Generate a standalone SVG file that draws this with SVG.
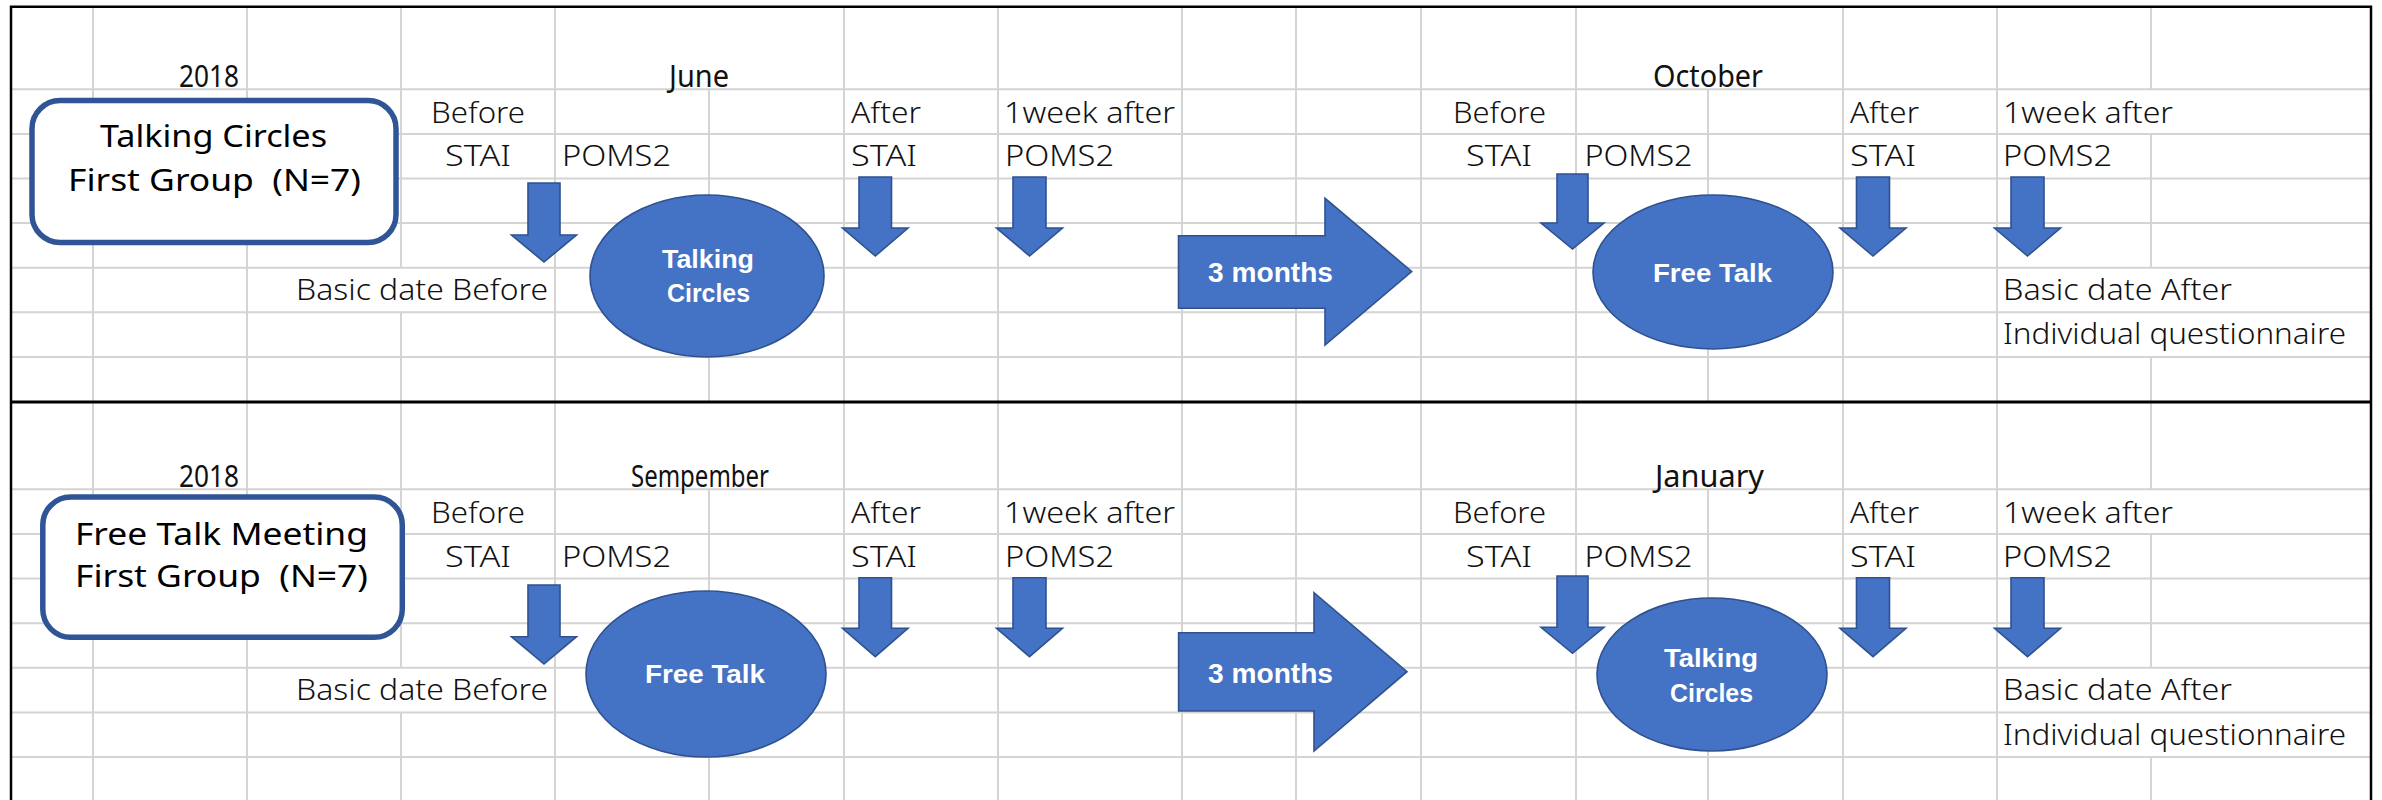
<svg xmlns="http://www.w3.org/2000/svg" width="2382" height="800" viewBox="0 0 2382 800">
<style>
.g{stroke:#D4D4D4;stroke-width:2;fill:none}
.b{stroke:#000;fill:none}
.lbl{font-family:"Noto Sans","Liberation Sans",sans-serif;font-size:28.5px;font-weight:300;fill:#111}
.mon{font-family:"Noto Sans","Liberation Sans",sans-serif;font-size:30px;font-weight:400;fill:#111}
.bx{font-family:"Noto Sans","Liberation Sans",sans-serif;font-size:30px;fill:#000}
.box{fill:#fff;stroke:#2F5597;stroke-width:5.5}
.sh{fill:#4472C4;stroke:#2F528F;stroke-width:1.6}
.wt{font-family:"Liberation Sans",sans-serif;font-weight:bold;font-size:25px;fill:#fff}
.wm{font-family:"Liberation Sans",sans-serif;font-weight:bold;font-size:28px;fill:#fff}
</style>
<rect width="2382" height="800" fill="#fff"/>
<g id="grid">
<path class="g" d="M11,89.3H2371M11,133.9H2371M11,178.5H2371M11,223.1H2371M11,267.7H2371M11,312.3H2371M11,356.9H2371M11,489.3H2371M11,534H2371M11,578.6H2371M11,623.2H2371M11,667.8H2371M11,712.4H2371M11,757H2371"/>
<path class="g" d="M93,6.7V800M247,6.7V800M555,6.7V800M844,6.7V800M998,6.7V800M1182,6.7V800M1296,6.7V800M1421,6.7V800M1576,6.7V800M1843,6.7V800M1997,6.7V800"/>
<path class="g" d="M401,6.7V267.7M401,312.3V667.8M401,712.4V800M709,89.3V402M709,489.3V800M1708,89.3V402M1708,489.3V800M2151,6.7V89.3M2151,133.9V267.7M2151,356.9V489.3M2151,534V667.8M2151,757V800"/>
<path class="b" stroke-width="2.5" d="M11,6.7H2371M11,5.5V800M2371,5.5V800"/>
<path class="b" stroke-width="3" d="M11,402H2371"/>
</g>
<g id="labels-top">
<text class="mon" x="179" y="87" textLength="60" lengthAdjust="spacingAndGlyphs">2018</text>
<text class="mon" x="669" y="87" textLength="60" lengthAdjust="spacingAndGlyphs">June</text>
<text class="mon" x="1653" y="87" textLength="110" lengthAdjust="spacingAndGlyphs">October</text>
<text class="lbl" x="431" y="123" textLength="94" lengthAdjust="spacingAndGlyphs">Before</text>
<text class="lbl" x="445" y="166" textLength="66" lengthAdjust="spacingAndGlyphs">STAI</text>
<text class="lbl" x="562" y="166" textLength="109" lengthAdjust="spacingAndGlyphs">POMS2</text>
<text class="lbl" x="851" y="123" textLength="70" lengthAdjust="spacingAndGlyphs">After</text>
<text class="lbl" x="851" y="166" textLength="66" lengthAdjust="spacingAndGlyphs">STAI</text>
<text class="lbl" x="1004" y="123" textLength="171" lengthAdjust="spacingAndGlyphs">1week after</text>
<text class="lbl" x="1005" y="166" textLength="109" lengthAdjust="spacingAndGlyphs">POMS2</text>
<text class="lbl" x="1453" y="123" textLength="93" lengthAdjust="spacingAndGlyphs">Before</text>
<text class="lbl" x="1466" y="166" textLength="66" lengthAdjust="spacingAndGlyphs">STAI</text>
<text class="lbl" x="1584.5" y="166" textLength="108" lengthAdjust="spacingAndGlyphs">POMS2</text>
<text class="lbl" x="1850" y="123" textLength="69" lengthAdjust="spacingAndGlyphs">After</text>
<text class="lbl" x="1850" y="166" textLength="66" lengthAdjust="spacingAndGlyphs">STAI</text>
<text class="lbl" x="2003" y="123" textLength="170" lengthAdjust="spacingAndGlyphs">1week after</text>
<text class="lbl" x="2003" y="166" textLength="109" lengthAdjust="spacingAndGlyphs">POMS2</text>
<text class="lbl" x="296" y="300" textLength="252" lengthAdjust="spacingAndGlyphs">Basic date Before</text>
<text class="lbl" x="2003" y="300" textLength="229" lengthAdjust="spacingAndGlyphs">Basic date After</text>
<text class="lbl" x="2003" y="343.5" textLength="343" lengthAdjust="spacingAndGlyphs">Individual questionnaire</text>
</g>
<g id="labels-bottom">
<text class="mon" x="179" y="487.3" textLength="60" lengthAdjust="spacingAndGlyphs">2018</text>
<text class="mon" x="631" y="487.3" textLength="138" lengthAdjust="spacingAndGlyphs">Sempember</text>
<text class="mon" x="1655" y="487.3" textLength="109" lengthAdjust="spacingAndGlyphs">January</text>
<text class="lbl" x="431" y="522.7" textLength="94" lengthAdjust="spacingAndGlyphs">Before</text>
<text class="lbl" x="445" y="566.7" textLength="66" lengthAdjust="spacingAndGlyphs">STAI</text>
<text class="lbl" x="562" y="566.7" textLength="109" lengthAdjust="spacingAndGlyphs">POMS2</text>
<text class="lbl" x="851" y="522.7" textLength="70" lengthAdjust="spacingAndGlyphs">After</text>
<text class="lbl" x="851" y="566.7" textLength="66" lengthAdjust="spacingAndGlyphs">STAI</text>
<text class="lbl" x="1004" y="522.7" textLength="171" lengthAdjust="spacingAndGlyphs">1week after</text>
<text class="lbl" x="1005" y="566.7" textLength="109" lengthAdjust="spacingAndGlyphs">POMS2</text>
<text class="lbl" x="1453" y="522.7" textLength="93" lengthAdjust="spacingAndGlyphs">Before</text>
<text class="lbl" x="1466" y="566.7" textLength="66" lengthAdjust="spacingAndGlyphs">STAI</text>
<text class="lbl" x="1584.5" y="566.7" textLength="108" lengthAdjust="spacingAndGlyphs">POMS2</text>
<text class="lbl" x="1850" y="522.7" textLength="69" lengthAdjust="spacingAndGlyphs">After</text>
<text class="lbl" x="1850" y="566.7" textLength="66" lengthAdjust="spacingAndGlyphs">STAI</text>
<text class="lbl" x="2003" y="522.7" textLength="170" lengthAdjust="spacingAndGlyphs">1week after</text>
<text class="lbl" x="2003" y="566.7" textLength="109" lengthAdjust="spacingAndGlyphs">POMS2</text>
<text class="lbl" x="296" y="700" textLength="252" lengthAdjust="spacingAndGlyphs">Basic date Before</text>
<text class="lbl" x="2003" y="700" textLength="229" lengthAdjust="spacingAndGlyphs">Basic date After</text>
<text class="lbl" x="2003" y="745" textLength="343" lengthAdjust="spacingAndGlyphs">Individual questionnaire</text>
</g>
<g id="group1-box">
<rect class="box" x="32" y="100.5" width="364" height="142" rx="28"/>
<text class="bx" x="100" y="147" textLength="227" lengthAdjust="spacingAndGlyphs">Talking Circles</text>
<text class="bx" x="68" y="191" textLength="293" lengthAdjust="spacingAndGlyphs">First Group&#160; (N=7)</text>
</g>
<g id="group2-box">
<rect class="box" x="42.8" y="497" width="359.5" height="140.3" rx="28"/>
<text class="bx" x="75" y="545" textLength="293" lengthAdjust="spacingAndGlyphs">Free Talk Meeting</text>
<text class="bx" x="75" y="587" textLength="293" lengthAdjust="spacingAndGlyphs">First Group&#160; (N=7)</text>
</g>
<g id="session1a">
<ellipse class="sh" cx="707" cy="276" rx="117" ry="81"/>
<text class="wt" x="662" y="268" textLength="92" lengthAdjust="spacingAndGlyphs">Talking</text>
<text class="wt" x="667" y="302" textLength="83" lengthAdjust="spacingAndGlyphs">Circles</text>
</g>
<g id="session1b">
<ellipse class="sh" cx="1713" cy="272" rx="120" ry="77"/>
<text class="wt" x="1653" y="282" textLength="119" lengthAdjust="spacingAndGlyphs">Free Talk</text>
</g>
<g id="session2a">
<ellipse class="sh" cx="706" cy="674" rx="120" ry="83"/>
<text class="wt" x="645" y="683" textLength="120" lengthAdjust="spacingAndGlyphs">Free Talk</text>
</g>
<g id="session2b">
<ellipse class="sh" cx="1712" cy="674.5" rx="115" ry="76.5"/>
<text class="wt" x="1664" y="667" textLength="94" lengthAdjust="spacingAndGlyphs">Talking</text>
<text class="wt" x="1670" y="702" textLength="83" lengthAdjust="spacingAndGlyphs">Circles</text>
</g>
<g id="interval1">
<path class="sh" d="M1178.5,235.7H1325V198.3L1411.7,271.5L1325,345V308.3H1178.5Z"/>
<text class="wm" x="1208" y="282" textLength="125" lengthAdjust="spacingAndGlyphs">3 months</text>
</g>
<g id="interval2">
<path class="sh" d="M1178.6,632.7H1314V592.7L1407,671.7L1314,751V711H1178.6Z"/>
<text class="wm" x="1208" y="682.5" textLength="125" lengthAdjust="spacingAndGlyphs">3 months</text>
</g>
<g id="connectors">
<path class="sh" d="M528,183H560V235H576.5L544,262L511.5,235H528Z"/>
<path class="sh" d="M859,177H891.5V228H908L875.3,256L842.5,228H859Z"/>
<path class="sh" d="M1013,177H1046V228H1062.5L1029.5,256L996.5,228H1013Z"/>
<path class="sh" d="M1557,174H1588V223H1604L1572.5,249L1541,223H1557Z"/>
<path class="sh" d="M1856.5,177H1889.5V228H1906L1873,256L1840,228H1856.5Z"/>
<path class="sh" d="M2011,177H2044V228H2060.5L2027.5,256L1994.5,228H2011Z"/>
<path class="sh" d="M528,585H560V636.7H576.5L544,664L511.5,636.7H528Z"/>
<path class="sh" d="M859,577.7H891.5V628.3H908L875.3,656.7L842.5,628.3H859Z"/>
<path class="sh" d="M1013,577.7H1046V628.3H1062.5L1029.5,656.7L996.5,628.3H1013Z"/>
<path class="sh" d="M1557,576H1588V627.3H1604L1572.5,653.3L1541,627.3H1557Z"/>
<path class="sh" d="M1856.5,577.7H1889.5V628.3H1906L1873,656.7L1840,628.3H1856.5Z"/>
<path class="sh" d="M2011,577.7H2044V628.3H2060.5L2027.5,656.7L1994.5,628.3H2011Z"/>
</g>
</svg>
